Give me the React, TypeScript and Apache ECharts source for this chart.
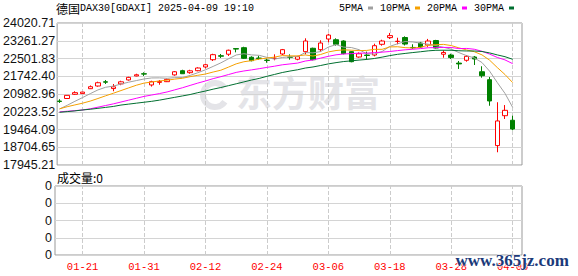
import React, { useEffect, useRef } from "react";
import * as echarts from "echarts";

const dates = [
  "01-16","01-17","01-20","01-21","01-22","01-23","01-24","01-27","01-28","01-29","01-30","01-31",
  "02-03","02-04","02-05","02-06","02-07","02-10","02-11","02-12","02-13","02-14","02-17","02-18","02-19","02-20","02-21","02-24","02-25","02-26","02-27","02-28",
  "03-03","03-04","03-05","03-06","03-07","03-10","03-11","03-12","03-13","03-14","03-17","03-18","03-19","03-20","03-21","03-24","03-25","03-26","03-27","03-28","03-31",
  "04-01","04-02","04-03","04-04","04-07","04-08","04-09",
];
const tickDates = ["01-21","01-31","02-12","02-24","03-06","03-18","03-28","04-09"];

const opens = [
  20680,20790,20970,21000,21210,21325,21505,21215,21415,21585,
  21755,21850,21370,21480,21510,21800,21980,21895,21980,22140,
  22450,22620,22685,22925,22965,22555,22520,22430,22505,22695,
  22560,22470,22795,22940,22880,23335,23305,23250,22795,22565,
  22650,22650,23110,23395,23230,23400,22975,23165,23080,23270,
  22685,22650,22305,22425,22565,21935,21595,18775,20055,19860,
];
const closes = [
  20665,20925,21040,21065,21295,21465,21490,21290,21505,21695,
  21805,21835,21510,21520,21610,21935,21850,21975,22095,22235,
  22665,22600,22855,22905,22510,22410,22505,22420,22515,22880,
  22550,22580,23250,22450,23165,23505,23110,22710,22365,22705,
  22630,23050,23250,23480,23240,23120,22960,22995,23250,22950,
  22760,22540,22270,22595,22480,21765,20685,19830,20285,19485,
];
const lows = [
  20600,20780,20940,20990,21195,21295,21410,21100,21360,21555,
  21740,21755,21300,21380,21495,21765,21840,21850,21955,22080,
  22395,22525,22610,22765,22480,22380,22450,22320,22425,22650,
  22450,22425,22680,22425,22790,23195,23050,22680,22340,22535,
  22450,22595,23050,23335,23110,23060,22910,22950,23000,22930,
  22535,22480,22055,22365,22225,21680,20480,18490,19915,19430,
];
const highs = [
  20760,20935,21100,21075,21350,21510,21580,21410,21550,21720,
  21850,21910,21550,21580,21640,21965,22020,22020,22125,22280,
  22705,22695,22880,22930,23005,22595,22620,22495,22680,22910,
  22680,22620,23365,22965,23280,23560,23365,23280,22825,22765,
  22795,23135,23305,23595,23390,23450,23110,23210,23340,23300,
  22855,22705,22395,22650,22610,22170,21710,20630,20510,20055,
];

const ma5 = [
  20340,20500,20670,20830,20998,21158,21271,21321,21409,21489,
  21557,21626,21670,21673,21656,21682,21685,21778,21893,22018,
  22164,22314,22490,22652,22707,22656,22637,22550,22472,22546,
  22574,22589,22755,22742,22799,22990,23096,22988,22971,22879,
  22704,22692,22800,23023,23130,23228,23210,23159,23113,23055,
  22983,22899,22754,22623,22529,22330,21959,21471,21009,20410,
];
const ma10 = [
  20350,20440,20515,20590,20680,20790,20905,21015,21130,21244,
  21358,21449,21496,21541,21573,21620,21656,21724,21783,21837,
  21923,22000,22134,22273,22363,22410,22476,22520,22562,22627,
  22615,22613,22653,22607,22673,22782,22843,22872,22857,22839,
  22847,22894,22894,22997,23005,22966,22951,22980,23068,23093,
  23106,23055,22957,22868,22792,22657,22429,22113,21816,21470,
];
const ma20 = [
  20220,20245,20270,20300,20350,20420,20490,20560,20640,20720,
  20800,20880,20940,21000,21070,21160,21250,21350,21450,21540,
  21640,21724,21815,21907,21968,22015,22066,22122,22173,22232,
  22269,22306,22393,22440,22518,22596,22659,22696,22709,22733,
  22731,22754,22773,22802,22839,22874,22897,22926,22962,22966,
  22976,22974,22925,22933,22898,22811,22690,22546,22442,22281,
];
const ma30 = [
  20200,20230,20260,20300,20330,20370,20410,20450,20510,20550,
  20590,20630,20670,20720,20780,20840,20900,20960,21040,21110,
  21190,21260,21340,21420,21500,21580,21650,21740,21820,21902,
  21965,22020,22094,22140,22203,22271,22325,22372,22401,22434,
  22462,22502,22560,22626,22680,22719,22756,22790,22829,22853,
  22856,22854,22834,22824,22823,22802,22741,22655,22580,22467,
];
const volumes = [
  0,0,0,0,0,0,0,0,0,0,0,0,0,0,0,0,0,0,0,0,
  0,0,0,0,0,0,0,0,0,0,0,0,0,0,0,0,0,0,0,0,
  0,0,0,0,0,0,0,0,0,0,0,0,0,0,0,0,0,0,0,0,
];

const yTickLabels = ["24020.71","23261.27","22501.83","21742.40","20982.96","20223.52","19464.09","18704.65","17945.21"];
const volTickLabels = ["0","0","0","0","0"];
const priceMin = 17945.21;
const priceMax = 24020.71;

const legendNames = ["5PMA", "10PMA", "20PMA", "30PMA"];
const maColors = ["#a0a0a0", "#f5a000", "#ff00ff", "#006f30"];
const maSeries = [ma5, ma10, ma20, ma30];

const axisCategories = [...dates, ""];

export default function App() {
  const ref = useRef<HTMLDivElement>(null);
  useEffect(() => {
    const chart = echarts.init(ref.current!, undefined, { renderer: "svg" });
    const dataLeft = 55.7;
    const dataWidth = 468.5;
    const vLine = {
      z: 1,
      silent: true,
      symbol: ["none", "none"],
      label: { show: false },
      lineStyle: { color: "#cccccc", type: "dashed", width: 1 },
      emphasis: { disabled: true },
      data: tickDates.map((d) => ({ xAxis: d })),
    };
    const option: any = {
      animation: false,
      backgroundColor: "#ffffff",
      legend: {
        data: legendNames,
        left: 339,
        top: 3,
        padding: 0,
        align: "right",
        icon: "rect",
        itemWidth: 5,
        itemHeight: 3,
        itemGap: 7,
        selectedMode: false,
        textStyle: { fontFamily: "Liberation Mono", fontSize: 10, color: "#000" },
      },
      grid: [
        { left: 55, width: 467, top: 23, height: 142, show: true, borderColor: "#999", borderWidth: 1, backgroundColor: "transparent" },
        { left: dataLeft, width: dataWidth, top: 23, height: 142, show: false },
        { left: 55, width: 467, top: 186, height: 69, show: true, borderColor: "#999", borderWidth: 1, backgroundColor: "transparent" },
        { left: dataLeft, width: dataWidth, top: 186, height: 69, show: false },
      ],
      xAxis: [
        { gridIndex: 0, type: "value", min: 0, max: 1, show: false },
        { gridIndex: 1, type: "category", data: axisCategories, boundaryGap: true, show: false },
        { gridIndex: 2, type: "value", min: 0, max: 1, show: false },
        {
          gridIndex: 3,
          type: "category",
          data: axisCategories,
          boundaryGap: true,
          axisLine: { show: false },
          axisTick: { show: false },
          splitLine: { show: false },
          axisLabel: {
            interval: (_i: number, v: string) => tickDates.includes(v),
            color: "#ff0000",
            fontFamily: "Liberation Mono",
            fontSize: 10.5,
            margin: 6,
          },
        },
      ],
      yAxis: [
        {
          gridIndex: 0,
          type: "value",
          min: 0,
          max: 8,
          interval: 1,
          axisLine: { show: false },
          axisTick: { show: false },
          axisLabel: {
            formatter: (v: number) => yTickLabels[8 - v],
            fontFamily: "Liberation Sans",
            fontSize: 12.5,
            color: "#111",
            margin: 2,
          },
          splitLine: { lineStyle: { color: "#d4d4d4", width: 1 } },
        },
        { gridIndex: 1, type: "value", min: priceMin, max: priceMax, show: false },
        {
          gridIndex: 2,
          type: "value",
          min: 0,
          max: 4,
          interval: 1,
          axisLine: { show: false },
          axisTick: { show: false },
          axisLabel: {
            formatter: (v: number) => volTickLabels[v],
            fontFamily: "Liberation Sans",
            fontSize: 12.5,
            color: "#111",
            margin: 3,
          },
          splitLine: { lineStyle: { color: "#d4d4d4", width: 1 } },
        },
        { gridIndex: 3, type: "value", min: 0, max: 1, show: false },
      ],
      series: [
        {
          type: "candlestick",
          name: "DAX30",
          xAxisIndex: 1,
          yAxisIndex: 1,
          barWidth: 5,
          z: 2,
          data: dates.map((_, i) => [opens[i], closes[i], lows[i], highs[i]]),
          itemStyle: {
            color: "#ffffff",
            color0: "#008000",
            borderColor: "#ff0000",
            borderColor0: "#008000",
            borderWidth: 1,
          },
          markLine: vLine,
        },
        ...maSeries.map((arr, k) => ({
          type: "line",
          name: legendNames[k],
          xAxisIndex: 1,
          yAxisIndex: 1,
          data: arr,
          color: maColors[k],
          showSymbol: false,
          symbol: "none",
          smooth: false,
          z: 3,
          lineStyle: { width: 1, color: maColors[k] },
        })),
        {
          type: "bar",
          name: "成交量",
          xAxisIndex: 3,
          yAxisIndex: 3,
          data: volumes,
          barWidth: 5,
          itemStyle: { color: "#008000" },
          markLine: vLine,
        },
      ],
      graphic: [
        {
          type: "text",
          left: 56,
          top: 2,
          style: {
            text: "{a|德国}{b|DAX30[GDAXI] 2025-04-09 19:10}",
            rich: {
              a: { fontFamily: "Noto Sans CJK SC", fontSize: 12, fill: "#000" },
              b: { fontFamily: "Liberation Mono", fontSize: 10, fill: "#000" },
            },
          },
        },
        {
          type: "text",
          left: 57,
          top: 171,
          style: {
            text: "成交量:0",
            font: "12px 'Noto Sans CJK SC'",
            fill: "#000",
          },
        },
        {
          type: "arc",
          z: -1,
          silent: true,
          shape: { cx: 215, cy: 95, r: 12, startAngle: 0.6, endAngle: 5.6 },
          style: { stroke: "#e4e4e8", lineWidth: 6, fill: "none" },
        },
        {
          type: "text",
          left: 236,
          top: 73,
          z: -1,
          silent: true,
          style: {
            text: "东方财富",
            font: "bold 36px 'Noto Sans CJK SC'",
            fill: "#e4e4e8",
          },
        },
        {
          type: "text",
          left: 455,
          top: 251,
          z: 100,
          silent: true,
          style: {
            text: "www.365jz.com",
            font: "bold 17px 'Liberation Serif'",
            fill: "#1b3a7a",
            stroke: "#ffffff",
            lineWidth: 1,
          },
        },
      ],
    };
    chart.setOption(option);
    return () => chart.dispose();
  }, []);
  return <div ref={ref} style={{ position: "fixed", left: 0, top: 0, width: 578, height: 276 }} />;
}
